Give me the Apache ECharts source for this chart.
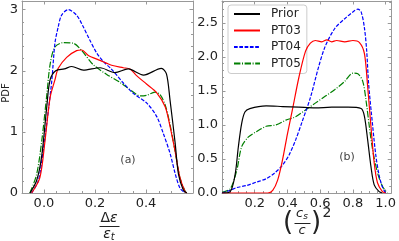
<!DOCTYPE html>
<html><head><meta charset="utf-8">
<script src="https://cdn.jsdelivr.net/npm/echarts@6/dist/echarts.min.js"></script>
<style>html,body{margin:0;padding:0;background:#fff}#c{width:399px;height:241px}</style>
</head><body><div id="c"></div>
<script>
const seriesNames = ['Prior','PT03','PT04','PT05'];
// Panel (a): x = Δε/εt, y = PDF
const priorA = [[-0.055,0],[-0.029,0.2],[-0.009,0.6],[0.011,1.41],[0.024,1.85],[0.046,2.0],[0.08,2.03],[0.109,2.07],[0.154,2.01],[0.22,2.05],[0.278,1.97],[0.33,2.03],[0.39,1.93],[0.46,2.04],[0.48,1.95],[0.494,1.52],[0.514,0.82],[0.527,0.31],[0.546,0.05],[0.56,0]];
const pt03A = [[-0.048,0],[-0.016,0.25],[0.004,0.85],[0.024,1.56],[0.043,1.85],[0.056,2.04],[0.089,2.22],[0.128,2.33],[0.148,2.34],[0.174,2.25],[0.22,2.17],[0.265,2.09],[0.311,2.05],[0.337,2.03],[0.363,1.92],[0.403,1.78],[0.442,1.64],[0.475,1.41],[0.494,1.09],[0.514,0.68],[0.533,0.25],[0.553,0.02],[0.56,0]];
const pt04A = [[-0.048,0],[-0.022,0.2],[-0.003,0.69],[0.017,1.34],[0.031,1.85],[0.043,2.45],[0.056,2.72],[0.069,2.91],[0.095,3.0],[0.128,2.91],[0.154,2.72],[0.18,2.5],[0.207,2.29],[0.233,2.15],[0.259,2.05],[0.285,1.93],[0.311,1.8],[0.35,1.63],[0.403,1.47],[0.442,1.25],[0.468,0.97],[0.494,0.65],[0.514,0.32],[0.533,0.08],[0.553,0]];
const pt05A = [[-0.055,0],[-0.029,0.3],[-0.009,0.84],[0.011,1.6],[0.024,2.1],[0.043,2.39],[0.076,2.46],[0.115,2.45],[0.148,2.33],[0.193,2.1],[0.246,1.94],[0.298,1.81],[0.344,1.67],[0.376,1.59],[0.403,1.6],[0.435,1.65],[0.455,1.61],[0.475,1.44],[0.494,1.12],[0.514,0.68],[0.533,0.25],[0.553,0.03],[0.56,0]];
// Panel (b): x = (cs/c)^2
const priorB = [[0,0],[0.05,0.02],[0.08,0.27],[0.1,0.68],[0.12,1.02],[0.14,1.19],[0.17,1.24],[0.27,1.28],[0.37,1.27],[0.47,1.26],[0.57,1.25],[0.67,1.26],[0.77,1.26],[0.85,1.24],[0.87,1.13],[0.89,0.78],[0.91,0.39],[0.93,0.12],[0.96,0.02],[0.98,0]];
const pt03B = [[0,0],[0.28,0],[0.31,0.04],[0.34,0.19],[0.37,0.49],[0.4,0.87],[0.43,1.22],[0.47,1.7],[0.51,2.08],[0.54,2.2],[0.57,2.24],[0.61,2.22],[0.64,2.25],[0.67,2.22],[0.7,2.24],[0.75,2.22],[0.8,2.24],[0.84,2.21],[0.87,2.05],[0.89,1.56],[0.91,0.98],[0.93,0.44],[0.95,0.15],[0.98,0.02],[1.0,0]];
const pt04B = [[0,0],[0.05,0.04],[0.09,0.08],[0.15,0.11],[0.21,0.16],[0.27,0.21],[0.32,0.29],[0.37,0.41],[0.41,0.56],[0.45,0.78],[0.49,1.05],[0.54,1.4],[0.59,1.85],[0.63,2.15],[0.69,2.42],[0.75,2.56],[0.8,2.66],[0.83,2.7],[0.85,2.66],[0.87,2.43],[0.884,2.09],[0.896,1.6],[0.92,1.0],[0.94,0.55],[0.96,0.26],[0.98,0.09],[1.0,0]];
const pt05B = [[0,0.01],[0.05,0.06],[0.09,0.33],[0.12,0.68],[0.16,0.82],[0.21,0.9],[0.27,0.98],[0.33,1.0],[0.39,1.07],[0.45,1.12],[0.51,1.22],[0.57,1.32],[0.63,1.42],[0.69,1.52],[0.75,1.64],[0.8,1.76],[0.83,1.75],[0.86,1.64],[0.88,1.36],[0.9,0.98],[0.92,0.64],[0.95,0.3],[0.98,0.1],[1.01,0]];
const xTicksA = [0, 0.2, 0.4];
const xMinorA = [-0.05,0.05,0.1,0.15,0.25,0.3,0.35,0.45,0.5,0.55];
const xTicksB = [0.2, 0.4, 0.6, 0.8, 1.0];
const xMinorB = [0.05,0.1,0.15,0.25,0.3,0.35,0.45,0.5,0.55,0.65,0.7,0.75,0.85,0.9,0.95];
const yTicksA = [0, 1, 2, 3];
const yTicksB = [0, 0.5, 1.0, 1.5, 2.0, 2.5];

const FONT = 'DejaVu Sans';
const axisCol = '#999';
const txtCol = '#222';
const styles = [
  {color:'#000000', type:'solid'},
  {color:'#ff0000', type:'solid'},
  {color:'#0000ff', type:[3.7,1.6]},
  {color:'#007f00', type:[6.4,1.6,1,1.6]}
];

function xAx(grid, min, max, major, minor, pos, kind) {
  return {
    type:'value', gridIndex:grid, min:min, max:max, position:pos,
    axisLine:{show:kind!=='minor', onZero:false, lineStyle:{color:axisCol, width:1}},
    axisTick:{show:true, inside:true, length: kind==='minor'?2:3.5, customValues: kind==='minor'?minor:major, lineStyle:{color:axisCol}},
    axisLabel:{show:kind==='main', customValues:major, color:txtCol, fontSize:13, fontFamily:FONT, margin:4, formatter:v=>v.toFixed(1)},
    splitLine:{show:false}
  };
}
function yAx(grid, max, interval, pos, show, dec, labels) {
  return {
    type:'value', gridIndex:grid, min:0, max:max, interval:interval, position:pos,
    axisLine:{show:true, onZero:false, lineStyle:{color:axisCol, width:1}},
    axisTick:{show:true, inside:true, length:3.5, lineStyle:{color:axisCol}},
    minorTick:{show:true, splitNumber:5, length:2, lineStyle:{color:axisCol}},
    axisLabel:{show:show, customValues:labels, color:txtCol, fontSize:13, fontFamily:FONT, margin:4, formatter:v=>v.toFixed(dec)},
    splitLine:{show:false}, minorSplitLine:{show:false}
  };
}

const dataA = [priorA, pt03A, pt04A, pt05A];
const dataB = [priorB, pt03B, pt04B, pt05B];
const series = [];
seriesNames.forEach((n,i)=>{
  series.push({name:n, type:'line', xAxisIndex:0, yAxisIndex:0, data:dataA[i], symbol:'none', showSymbol:false, smooth:0.3,
    lineStyle:{color:styles[i].color, type:styles[i].type, width:1.2}, itemStyle:{color:styles[i].color}, z: 10-i});
});
seriesNames.forEach((n,i)=>{
  series.push({name:n, type:'line', xAxisIndex:3, yAxisIndex:2, data:dataB[i], symbol:'none', showSymbol:false, smooth:0.3,
    lineStyle:{color:styles[i].color, type:styles[i].type, width:1.2}, itemStyle:{color:styles[i].color}, z: 10-i});
});

const chart = echarts.init(document.getElementById('c'), null, {renderer:'canvas'});
chart.setOption({
  animation:false,
  backgroundColor:'#fff',
  grid:[
    {left:22, top:1, width:171, height:192},
    {left:222, top:1, width:172, height:192}
  ],
  xAxis:[
    xAx(0, -0.086, 0.584, xTicksA, xMinorA, 'bottom', 'main'),
    xAx(0, -0.086, 0.584, xTicksA, xMinorA, 'bottom', 'minor'),
    xAx(0, -0.086, 0.584, xTicksA, xMinorA, 'top', 'top'),
    xAx(1, 0, 1.034, xTicksB, xMinorB, 'bottom', 'main'),
    xAx(1, 0, 1.034, xTicksB, xMinorB, 'bottom', 'minor'),
    xAx(1, 0, 1.034, xTicksB, xMinorB, 'top', 'top')
  ],
  yAxis:[
    yAx(0, 3.142, 1, 'left', true, 0, yTicksA),
    yAx(0, 3.142, 1, 'right', false, 0, yTicksA),
    yAx(1, 2.82, 0.5, 'left', true, 1, yTicksB),
    yAx(1, 2.82, 0.5, 'right', false, 1, yTicksB)
  ],
  legend:{
    data:seriesNames, orient:'vertical', left:228, top:5,
    itemWidth:26, itemHeight:14, itemGap:4.5,
    padding:[3,6,4,5],
    itemStyle:{opacity:0, borderWidth:0},
    backgroundColor:'rgba(255,255,255,0.85)', borderColor:'#ccc', borderWidth:1, borderRadius:3,
    textStyle:{color:txtCol, fontSize:12, fontFamily:FONT, padding:[0,0,0,6]}
  },
  series:series,
  graphic:[
    {type:'text', x:6, y:93, rotation:Math.PI/2, style:{text:'PDF', fill:txtCol, font:'10px '+FONT, align:'center', verticalAlign:'middle'}},
    {type:'text', x:128, y:160, style:{text:'(a)', fill:'#444', font:'11px '+FONT, align:'center', verticalAlign:'middle'}},
    {type:'text', x:347, y:157, style:{text:'(b)', fill:'#444', font:'11px '+FONT, align:'center', verticalAlign:'middle'}},
    {type:'text', x:109, y:218, style:{text:'{n|Δ}{i|ε}', align:'center', verticalAlign:'middle', fill:txtCol,
      rich:{n:{fontSize:14, fontFamily:FONT, fill:txtCol}, i:{fontSize:14, fontFamily:FONT, fontStyle:'italic', fill:txtCol}}}},
    {type:'line', shape:{x1:99.5, y1:226.5, x2:119.5, y2:226.5}, style:{stroke:txtCol, lineWidth:1}},
    {type:'text', x:109, y:234, style:{text:'{i|ε}{s|t}', align:'center', verticalAlign:'middle', fill:txtCol,
      rich:{i:{fontSize:14, fontFamily:FONT, fontStyle:'italic', fill:txtCol}, s:{fontSize:10, fontFamily:FONT, fontStyle:'italic', fill:txtCol, verticalAlign:'bottom', padding:[6,0,0,0]}}}},
    {type:'text', x:288, y:223, style:{text:'(', fill:txtCol, font:'26px '+FONT, align:'center', verticalAlign:'middle'}},
    {type:'text', x:302, y:214, style:{text:'{i|c}{s|s}', align:'center', verticalAlign:'middle', fill:txtCol,
      rich:{i:{fontSize:13, fontFamily:FONT, fontStyle:'italic', fill:txtCol}, s:{fontSize:9, fontFamily:FONT, fontStyle:'italic', fill:txtCol, padding:[5,0,0,0]}}}},
    {type:'line', shape:{x1:294.5, y1:223.5, x2:310.5, y2:223.5}, style:{stroke:txtCol, lineWidth:1}},
    {type:'text', x:302, y:231, style:{text:'c', fill:txtCol, font:'italic 13px '+FONT, align:'center', verticalAlign:'middle'}},
    {type:'text', x:316, y:223, style:{text:')', fill:txtCol, font:'26px '+FONT, align:'center', verticalAlign:'middle'}},
    {type:'text', x:327, y:213, style:{text:'2', fill:txtCol, font:'14px '+FONT, align:'center', verticalAlign:'middle'}}
  ]
});
</script></body></html>
